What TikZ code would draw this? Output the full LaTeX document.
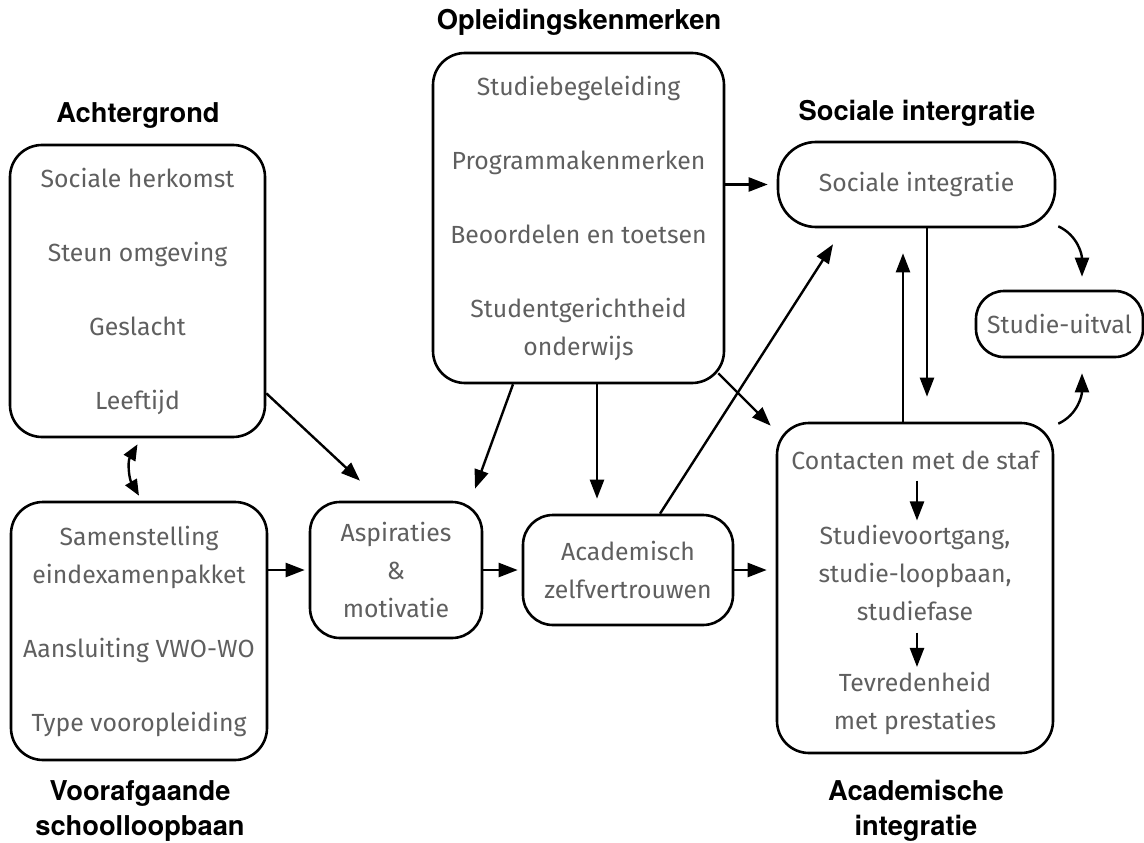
\documentclass[tikz,border=0pt]{standalone}
\usepackage{fontspec}
\setmainfont{Fira Sans}
\newfontfamily\titlefont{TeX Gyre Heros}
\usetikzlibrary{arrows.meta,calc}
\definecolor{txtgray}{RGB}{95,95,95}
\newcommand\boxfnt{\fontsize{24.8}{38}\selectfont}
\newcommand\titlefnt{\titlefont\bfseries\fontsize{27.3}{35}\selectfont}
\begin{document}
\begin{tikzpicture}[x=1pt,y=-1pt,
  box/.style={draw=black,line width=2.6pt,rounded corners=32pt,inner sep=0pt,align=center,text=txtgray,font=\boxfnt},
  itm/.style={inner sep=0pt,align=center,text=txtgray,font=\boxfnt},
  title/.style={font=\titlefnt,anchor=base,align=center,inner sep=0pt},
  arr/.style={line width=2.4pt,-{Triangle[length=19pt,width=14pt]}},
  darr/.style={line width=2.4pt,{Triangle[length=16pt,width=13pt]}-{Triangle[length=16pt,width=13pt]}}]
\useasboundingbox (0,0) rectangle (1144,843);

% boxes
\node[box,minimum width=255pt,minimum height=292pt] (ach) at (137.5,291)
  {Sociale herkomst\\[36pt]Steun omgeving\\[36pt]Geslacht\\[36pt]Leeftijd};
\node[box,minimum width=256pt,minimum height=258pt] (voor) at (139,631)
  {Samenstelling\\eindexamenpakket\\[36pt]Aansluiting VWO-WO\\[36pt]Type vooropleiding};
\node[box,minimum width=291pt,minimum height=330pt] (opl) at (578.5,218)
  {Studiebegeleiding\\[36pt]Programmakenmerken\\[36pt]Beoordelen en toetsen\\[36pt]Studentgerichtheid\\onderwijs};
\node[box,rounded corners=30pt,minimum width=172pt,minimum height=136pt] (asp) at (396,570)
  {Aspiraties\\\&\\motivatie};
\node[box,rounded corners=30pt,minimum width=210pt,minimum height=110pt] (acz) at (628,570)
  {Academisch\\zelfvertrouwen};
\node[box,rounded corners=38pt,minimum width=277pt,minimum height=85pt] (soc) at (916.5,184.5)
  {Sociale integratie};
\node[box,rounded corners=28pt,minimum width=167pt,minimum height=66pt] (uit) at (1059.5,324)
  {Studie-uitval};
\node[box,minimum width=276pt,minimum height=330pt] (aca) at (915,588) {};

% items inside academische integratie
\node[itm] (c1) at (915,460) {Contacten met de staf};
\node[itm] (c2) at (915,572.5) {Studievoortgang,\\studie-loopbaan,\\studiefase};
\node[itm] (c3) at (915,703.5) {Tevredenheid\\met prestaties};

% titles
\node[title] (tach) at (138,122) {Achtergrond};
\node[title] (topl) at (579,30) {Opleidingskenmerken};
\node[title] (tsoc) at (917,121) {Sociale intergratie};
\node[title] (tvoor) at (140,835) {Voorafgaande\\schoolloopbaan};
\node[title] (taca) at (916,835) {Academische\\integratie};

% connectors
\draw[arr] ([yshift=45pt]ach.south east) -- ([xshift=-36pt,yshift=20pt]asp.north);
\draw[darr] ([yshift=-6pt]ach.south) to[out=-120,in=120] ([yshift=5pt]voor.north);
\draw[arr] (voor.east |- asp.west) -- ([xshift=-4pt]asp.west);
\draw[arr] (asp.east) -- ([xshift=-4pt]acz.west);
\draw[arr] ([xshift=-65.5pt]opl.south) -- ([xshift=79pt,yshift=12pt]asp.north);
\draw[arr] ([xshift=18.5pt]opl.south) -- ([xshift=-31pt,yshift=15pt]acz.north);
\draw[arr] ([xshift=-7pt,yshift=11pt]opl.south east) -- ([xshift=-5pt,yshift=-4pt]aca.north west);
\draw[arr] (opl.east |- soc.west) -- ([xshift=-9pt]soc.west);
\draw[arr] ([xshift=32pt]acz.north) -- ([xshift=-83.5pt,yshift=-16pt]soc.south);
\draw[arr] (acz.east) -- ($(aca.west |- acz.east)+(-9pt,0pt)$);
\draw[arr] ([xshift=-12pt]aca.north) -- ([xshift=-13.5pt,yshift=-25pt]soc.south);
\draw[arr] ([xshift=10.5pt]soc.south) -- ([xshift=12pt,yshift=25pt]aca.north);
\draw[arr] ([xshift=2pt,yshift=2pt]soc.south east) to[out=-25,in=90] ([xshift=22.5pt,yshift=13pt]uit.north);
\draw[arr] ([xshift=4pt,yshift=-2pt]aca.north east) to[out=25,in=-90] ([xshift=22.5pt,yshift=-15pt]uit.south);
\draw[arr] ([xshift=2pt,yshift=-11pt]c1.south) -- ([xshift=2pt,yshift=4pt]c2.north);
\draw[arr] ([xshift=2pt,yshift=-12pt]c2.south) -- ([xshift=2pt,yshift=5pt]c3.north);
\end{tikzpicture}
\end{document}
